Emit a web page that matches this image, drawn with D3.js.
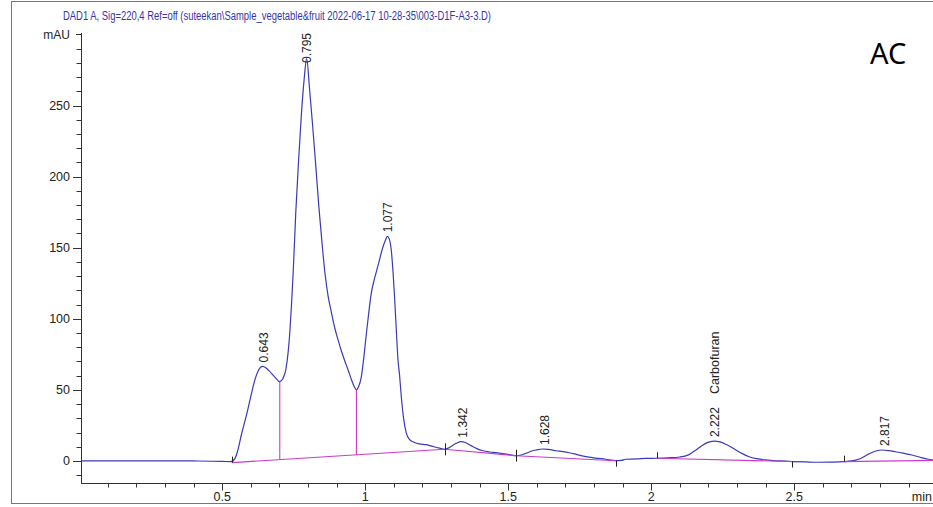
<!DOCTYPE html>
<html>
<head>
<meta charset="utf-8">
<script src="https://cdn.jsdelivr.net/npm/d3@7"></script>
<style>
  html, body { margin: 0; padding: 0; background: #fff; }
  svg { display: block; }
  text { font-family: "Liberation Sans", Arial, sans-serif; }
</style>
</head>
<body>
<svg id="chart" width="933" height="507"></svg>
<script>
// DAD1 A chromatogram, signal 220 nm
const titleText = "DAD1 A, Sig=220,4 Ref=off (suteekan\\Sample_vegetable&fruit 2022-06-17 10-28-35\\003-D1F-A3-3.D)";
const sampleTag = "AC";

// Detector trace: retention time (min) and absorbance (mAU)
const traceTime = [
  0.006, 0.10, 0.20, 0.30, 0.40, 0.50, 0.530, 0.545, 0.555, 0.568,
  0.583, 0.597, 0.614, 0.627, 0.640, 0.652, 0.663, 0.684, 0.701, 0.712,
  0.722, 0.730, 0.736, 0.742, 0.748, 0.757, 0.767, 0.776, 0.786, 0.795,
  0.805, 0.815, 0.826, 0.838, 0.848, 0.859, 0.870, 0.882, 0.894, 0.905,
  0.917, 0.928, 0.940, 0.951, 0.962, 0.969, 0.976, 0.986, 0.995, 1.004,
  1.012, 1.021, 1.032, 1.044, 1.062, 1.070, 1.077, 1.084, 1.091, 1.097,
  1.103, 1.109, 1.114, 1.120, 1.126, 1.134, 1.143, 1.155, 1.172, 1.190,
  1.213, 1.240, 1.260, 1.277, 1.290, 1.300, 1.318, 1.335, 1.350, 1.370,
  1.390, 1.411, 1.435, 1.457, 1.480, 1.504, 1.527, 1.545, 1.562, 1.580,
  1.597, 1.620, 1.640, 1.667, 1.690, 1.713, 1.740, 1.771, 1.805, 1.841,
  1.876, 1.895, 1.911, 1.950, 1.981, 2.020, 2.060, 2.100, 2.130, 2.155,
  2.175, 2.195, 2.219, 2.240, 2.260, 2.280, 2.300, 2.320, 2.342, 2.370,
  2.400, 2.450, 2.493, 2.540, 2.586, 2.630, 2.673, 2.700, 2.725, 2.745,
  2.760, 2.785, 2.806, 2.830, 2.853, 2.880, 2.911, 2.940, 2.969, 3.000
];
const traceMAU = [
  0.0, 0.1, 0.0, 0.1, 0.0, -0.3, -0.5, 2.0, 8.0, 19.5,
  31.0, 43.0, 57.0, 64.0, 66.5, 65.5, 63.5, 59.0, 55.8, 58.0,
  64.0, 76.0, 90.0, 110.0, 133.0, 175.0, 212.0, 242.0, 268.0, 283.0,
  262.0, 238.0, 210.0, 178.0, 155.0, 132.0, 116.0, 104.0, 93.0, 85.0,
  77.0, 70.5, 64.0, 57.5, 52.0, 50.0, 52.0, 59.0, 73.0, 90.0,
  104.0, 118.0, 128.0, 137.0, 150.7, 155.0, 158.0, 156.0, 148.0, 133.0,
  113.0, 90.0, 72.0, 60.0, 45.0, 30.0, 20.0, 15.0, 13.0, 12.0,
  11.5, 10.0, 9.0, 8.2, 9.0, 10.2, 12.4, 13.6, 13.0, 10.8,
  8.7, 7.2, 6.3, 5.8, 5.2, 4.5, 3.7, 4.2, 5.4, 6.8,
  7.7, 8.4, 8.2, 7.2, 6.6, 5.8, 4.5, 3.0, 2.0, 1.2,
  0.2, 0.4, 1.2, 1.4, 1.8, 1.9, 2.2, 2.8, 4.3, 7.5,
  10.5, 12.9, 14.0, 13.4, 11.8, 9.7, 7.2, 5.0, 3.0, 1.6,
  0.7, 0.0, -0.4, -0.7, -0.9, -0.8, -0.5, 0.0, 1.2, 3.2,
  4.9, 7.0, 7.7, 7.3, 6.5, 5.5, 4.2, 2.6, 1.2, 0.3
];

// Integrated peaks: retention time label, apex height, name
const peakRT = [0.643, 0.795, 1.077, 1.342, 1.628, 2.222, 2.817];
const peakApex = [66.5, 283.0, 158.0, 13.6, 8.4, 14.0, 7.7];
const peakName = ["", "", "", "", "", "Carbofuran", ""];

// Integration baselines: [startTime, startMAU, endTime, endMAU]
const baseSegments = [
  [0.533, -1.2, 1.277, 8.2],
  [1.277, 8.2, 1.527, 3.7],
  [1.527, 3.7, 1.876, 0.2],
  [2.020, 1.9, 2.493, -0.4],
  [2.673, -0.5, 3.050, 0.6]
];
// Peak-split drop lines (time)
const dropTimes = [0.701, 0.969];
// Integration event marks: time and direction (+1 start, -1 end)
const eventTime = [0.533, 1.277, 1.277, 1.527, 1.527, 1.876, 2.020, 2.493, 2.673];
const eventDir = [1, -1, 1, -1, 1, -1, 1, -1, 1];

// Axis ticks
const xMajorTicks = [0.5, 1, 1.5, 2, 2.5];
const yMajorTicks = [0, 50, 100, 150, 200, 250];

const svg = d3.select("#chart");
const W = 933, H = 507;

const x = d3.scaleLinear().domain([0.006, 3.0]).range([81, 937.3]);
const y = d3.scaleLinear().domain([-15.5, 301]).range([483, 33]);

const traceColor = "#3a3ab8";
const baseColor = "#cc3acc";
const axisColor = "#333";

// Outer frame
svg.append("rect")
  .attr("x", 11.5).attr("y", 1.5)
  .attr("width", 1000).attr("height", 502)
  .attr("fill", "none").attr("stroke", "#777").attr("stroke-width", 1);

// Title
svg.append("text")
  .attr("x", 63).attr("y", 20)
  .attr("font-size", 12.5)
  .attr("fill", "#3535a8")
  .attr("textLength", 428)
  .attr("lengthAdjust", "spacingAndGlyphs")
  .text(titleText);

// Sample tag
svg.append("text")
  .attr("x", 870).attr("y", 64)
  .attr("font-size", 29)
  .attr("fill", "#000")
  .style("font-family", "'Noto Sans', 'Open Sans', sans-serif")
  .text(sampleTag);

// Y axis
const yAxisG = svg.append("g").attr("transform", `translate(${x.range()[0]},0)`);
yAxisG.append("line")
  .attr("x1", 0.5).attr("x2", 0.5)
  .attr("y1", y(301)).attr("y2", y(-15.5))
  .attr("stroke", axisColor);
const yMinor = d3.range(-10, 301, 10).filter(v => !yMajorTicks.includes(v) && v !== 300);
yAxisG.selectAll("line.ymin").data(yMinor).join("line")
  .attr("class", "ymin")
  .attr("x1", -4.5).attr("x2", 0.5)
  .attr("y1", d => Math.round(y(d)) + 0.5).attr("y2", d => Math.round(y(d)) + 0.5)
  .attr("stroke", axisColor);
yAxisG.selectAll("line.ymaj").data(yMajorTicks.concat([300])).join("line")
  .attr("class", "ymaj")
  .attr("x1", d => d === 300 ? -5 : -8).attr("x2", 0.5)
  .attr("y1", d => Math.round(y(d)) + 0.5).attr("y2", d => Math.round(y(d)) + 0.5)
  .attr("stroke", axisColor);
yAxisG.selectAll("text.ylab").data(yMajorTicks).join("text")
  .attr("class", "ylab")
  .attr("x", -11).attr("y", d => y(d))
  .attr("dy", "0.36em")
  .attr("text-anchor", "end")
  .attr("font-size", 12.5)
  .attr("fill", "#222")
  .text(d => d);
yAxisG.append("text")
  .attr("x", -11).attr("y", y(300))
  .attr("dy", "0.36em")
  .attr("text-anchor", "end")
  .attr("font-size", 12)
  .attr("fill", "#222")
  .text("mAU");

// X axis
const xAxisG = svg.append("g").attr("transform", `translate(0,${y.range()[0]})`);
xAxisG.append("line")
  .attr("x1", x.range()[0]).attr("x2", W)
  .attr("y1", 0.5).attr("y2", 0.5)
  .attr("stroke", axisColor);
const xMinor = d3.range(1, 31).map(i => i / 10).filter(v => !xMajorTicks.some(m => Math.abs(m - v) < 1e-6));
xAxisG.selectAll("line.xmin").data(xMinor).join("line")
  .attr("class", "xmin")
  .attr("x1", d => Math.round(x(d)) + 0.5).attr("x2", d => Math.round(x(d)) + 0.5)
  .attr("y1", 0.5).attr("y2", 4.5)
  .attr("stroke", axisColor);
xAxisG.selectAll("line.xmaj").data(xMajorTicks).join("line")
  .attr("class", "xmaj")
  .attr("x1", d => Math.round(x(d)) + 0.5).attr("x2", d => Math.round(x(d)) + 0.5)
  .attr("y1", 0.5).attr("y2", 7.5)
  .attr("stroke", axisColor);
xAxisG.selectAll("text.xlab").data(xMajorTicks).join("text")
  .attr("class", "xlab")
  .attr("x", d => x(d)).attr("y", 18)
  .attr("text-anchor", "middle")
  .attr("font-size", 12.5)
  .attr("fill", "#222")
  .text(d => d);
xAxisG.append("text")
  .attr("x", W - 1).attr("y", 18)
  .attr("text-anchor", "end")
  .attr("font-size", 12.5)
  .attr("fill", "#222")
  .text("min");

// Clip to plotting region
svg.append("clipPath").attr("id", "plotClip")
  .append("rect").attr("x", x.range()[0] + 1).attr("y", 0)
  .attr("width", W).attr("height", y.range()[0]);

const plot = svg.append("g").attr("clip-path", "url(#plotClip)");

// Detector trace
const traceData = traceTime.map((t, i) => [t, traceMAU[i]]);
const line = d3.line().x(d => x(d[0])).y(d => y(d[1])).curve(d3.curveMonotoneX);
plot.append("path")
  .datum(traceData)
  .attr("d", line)
  .attr("fill", "none")
  .attr("stroke", traceColor)
  .attr("stroke-width", 1.2);

// Integration baselines
plot.selectAll("line.base").data(baseSegments).join("line")
  .attr("class", "base")
  .attr("x1", d => x(d[0])).attr("y1", d => y(d[1]))
  .attr("x2", d => x(d[2])).attr("y2", d => y(d[3]))
  .attr("stroke", baseColor).attr("stroke-width", 1.1);

// Baseline value at a given time
function baseAt(t) {
  const s = baseSegments.find(b => t >= b[0] && t <= b[2]);
  if (!s) return 0;
  return s[1] + (s[3] - s[1]) * (t - s[0]) / (s[2] - s[0]);
}
const traceAt = t => {
  const i = d3.bisector(d => d[0]).left(traceData, t);
  if (i <= 0) return traceData[0][1];
  const a = traceData[i - 1], b = traceData[i];
  return a[1] + (b[1] - a[1]) * (t - a[0]) / (b[0] - a[0]);
};

// Drop lines between co-eluting peaks
plot.selectAll("line.drop").data(dropTimes).join("line")
  .attr("class", "drop")
  .attr("x1", d => x(d)).attr("x2", d => x(d))
  .attr("y1", d => y(traceAt(d))).attr("y2", d => y(baseAt(d)))
  .attr("stroke", baseColor).attr("stroke-width", 1.1);

// Integration event marks
plot.selectAll("line.evt").data(eventTime).join("line")
  .attr("class", "evt")
  .attr("x1", d => Math.round(x(d)) + 0.5).attr("x2", d => Math.round(x(d)) + 0.5)
  .attr("y1", d => y(baseAt(d)))
  .attr("y2", (d, i) => y(baseAt(d)) - 6 * eventDir[i])
  .attr("stroke", "#222").attr("stroke-width", 1);

// Peak labels (rotated)
const labelFloor = y(301) + 30;
const labels = svg.append("g");
peakRT.forEach((rt, i) => {
  const px = x(rt);
  const py = Math.max(y(peakApex[i]) - 4, labelFloor);
  const g = labels.append("g").attr("transform", `translate(${px},${py}) rotate(-90)`);
  g.append("text")
    .attr("x", 0).attr("y", 0)
    .attr("dy", "0.36em")
    .attr("font-size", 12)
    .attr("fill", "#222")
    .text(rt.toFixed(3));
  if (peakName[i]) {
    g.append("text")
      .attr("x", 43).attr("y", 0)
      .attr("dy", "0.36em")
      .attr("font-size", 12.5)
      .attr("fill", "#222")
      .text(peakName[i]);
  }
});
</script>
</body>
</html>
